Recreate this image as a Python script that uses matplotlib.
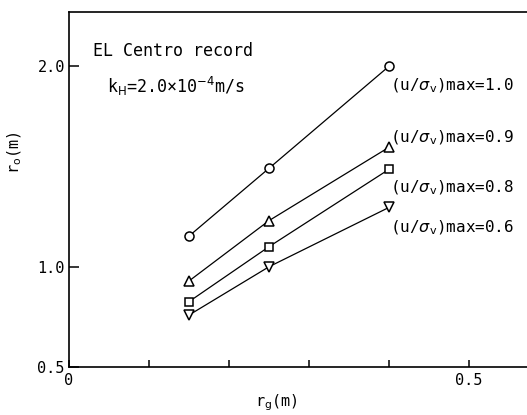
import matplotlib
matplotlib.use("Agg")
import matplotlib.pyplot as plt
from matplotlib.ticker import FixedLocator, FixedFormatter

rg = [0.15, 0.25, 0.40]
ro_10 = [1.153, 1.491, 2.00]
ro_09 = [0.929, 1.230, 1.596]
ro_08 = [0.826, 1.100, 1.486]
ro_06 = [0.759, 1.000, 1.296]
series_labels = ["1.0", "0.9", "0.8", "0.6"]
xticks = [0.0, 0.1, 0.2, 0.3, 0.4, 0.5]
xticklabels = ["0", "", "", "", "", "0.5"]
yticks = [0.5, 1.0, 2.0]
yticklabels = ["0.5", "1.0", "2.0"]

W, H = 527, 415
fig = plt.figure(figsize=(W / 100, H / 100), dpi=100)
ax = fig.add_axes([69 / W, (H - 367) / H, (W - 69) / W, (367 - 12) / H])
ax.set_xlim(0, (W - 69) / 800)
ax.set_ylim(0.5, 0.5 + (367 - 12) / 200.5)

mono = "DejaVu Sans Mono"
series = [
    (ro_10, "o", 6.5, (1, -14)),
    (ro_09, "^", 7, (1, 7)),
    (ro_08, "s", 6, (1, -13)),
    (ro_06, "v", 7, (1, -15)),
]
for (vals, mk, ms, off), lab in zip(series, series_labels):
    ax.plot(rg, vals, color="black", lw=0.9, marker=mk, ms=ms,
            mfc="white", mec="black", mew=1.1, zorder=3)
    ax.annotate(r"(u/$\sigma_{\rm v}$)max=" + lab, xy=(rg[-1], vals[-1]),
                xytext=off, textcoords="offset points", ha="left", va="center",
                fontsize=11.5, family=mono)

ax.spines["right"].set_visible(False)
for s in ["left", "bottom", "top"]:
    ax.spines[s].set_linewidth(1.2)

ax.xaxis.set_major_locator(FixedLocator(xticks))
ax.xaxis.set_major_formatter(FixedFormatter(xticklabels))
ax.yaxis.set_major_locator(FixedLocator(yticks))
ax.yaxis.set_major_formatter(FixedFormatter(yticklabels))
ax.tick_params(axis="x", direction="in", length=5, width=1.1, pad=4, labelsize=11)
ax.tick_params(axis="y", direction="in", length=7, width=1.1, pad=3, labelsize=11)
for t in ax.get_xticklabels() + ax.get_yticklabels():
    t.set_family(mono)

ax.text(0.052, 0.89, "EL Centro record", transform=ax.transAxes,
        fontsize=12, family=mono, va="center", ha="left")
ax.text(0.083, 0.79, r"k$_{\rm H}$=2.0×10$^{-4}$m/s", transform=ax.transAxes,
        fontsize=12, family=mono, va="center", ha="left")

fig.text(15 / W, 1 - 153 / H, r"r$_{\rm o}$(m)", rotation=90, fontsize=11,
         family=mono, ha="center", va="center")
fig.text(276 / W, 1 - 403 / H, r"r$_{\rm g}$(m)", fontsize=11,
         family=mono, ha="center", va="center")

fig.savefig("out.png", dpi=100)
